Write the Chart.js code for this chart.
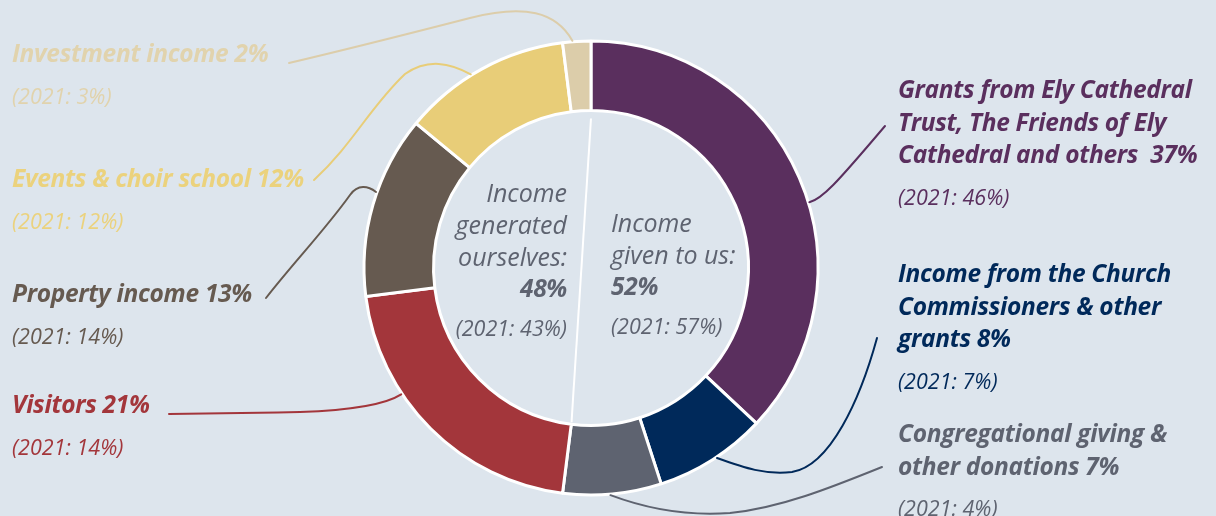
<!DOCTYPE html>
<html><head><meta charset="utf-8">
<script src="https://cdn.jsdelivr.net/npm/chart.js@4.4.1/dist/chart.umd.min.js"></script>
<style>
html,body{margin:0;padding:0;background:#dde5ed;}
#wrap{position:relative;width:1216px;height:516px;overflow:hidden;font-family:"Open Sans",Lato,sans-serif;}
canvas{position:absolute;left:0;top:0;}
.ln{position:absolute;white-space:pre;font-style:italic;}
.b{font-weight:700;letter-spacing:-0.3px;}
.r{font-weight:400;}
.s{font-weight:400;}
</style></head>
<body><div id="wrap"><canvas id="c" width="1216" height="516"></canvas></div>
<script>
// clockwise from 12 o'clock
const categories=[
  ["Grants from Ely Cathedral","Trust, The Friends of Ely","Cathedral and others "],
  ["Income from the Church","Commissioners & other","grants"],
  ["Congregational giving &","other donations"],
  ["Visitors"],
  ["Property income"],
  ["Events & choir school"],
  ["Investment income"]
];
const share2022=[37,8,7,21,13,12,2];
const share2021=[46,7,4,14,14,12,3];
const colours=["#5a2f5e","#00295a","#5e6370","#a3363b","#665a50","#e8cd78","#dccdaa"];
const textColours=["#5a2f5e","#00295a","#5e6370","#a3363b","#665a50","#ebd27d","#e1d3ad"];

const groupNames=[["Income","given to us:"],["Income","generated","ourselves:"]];
const groupShare2022=[52,48];
const groupShare2021=[57,43];

// layout: label x, first baseline ; leader: where it leaves the ring + bezier path, gap = distance after label text
const labelPos=[
  {x:898,base:99},
  {x:898,base:283},
  {x:898,base:443},
  {x:12,base:414},
  {x:12,base:303},
  {x:12,base:188},
  {x:12,base:63}
];
const leaders=[
  {f:0.55,path:[[822,199,835,185,885,126]]},
  {f:0.46,path:[[745,468,765,475,792,472],[830,466,860,400,877,338]]},
  {f:0.52,path:[[650,510,690,516,730,513],[780,508,830,488,882,467]]},
  {f:0.65,path:[[380,408,330,411,300,412],[250,413,200,414,174,414]],gap:19},
  {f:0.57,path:[[368,186,358,184,350,195],[325,230,300,262,272,298]],gap:14},
  {f:0.43,path:[[450,63,428,58,405,74],[370,107,330,144,291,180]],gap:10},
  {f:0.35,path:[[556,12,525,4,470,18],[400,36,340,52,293,63]],gap:21}
];
const groupPos=[{x:611,base:232,align:"r"==="x"?"r":"l"},{x:567,base:202,align:"r"}];

const FS={b:24.5,r:25,s:21.5};
const wrap=document.getElementById("wrap");
const firstLine=[];
function addLine(txt,cls,x,base,align,col){
  const d=document.createElement("div");
  d.className="ln "+cls; d.textContent=txt; d.style.color=col;
  const fs=FS[cls], lh=Math.round(fs*1.4);
  d.style.fontSize=fs+"px"; d.style.lineHeight=lh+"px";
  d.style.top=(base-((lh-fs*1.362)/2+fs*1.069))+"px";
  if(align==="r") d.style.right=(1216-x)+"px"; else d.style.left=x+"px";
  wrap.appendChild(d);
  return d;
}
categories.forEach((lines,i)=>{
  const p=labelPos[i]; const lh=32.5;
  lines.forEach((t,j)=>{
    const txt=j===lines.length-1? `${t} ${share2022[i]}%` : t;
    const d=addLine(txt,"b",p.x,p.base+j*lh,"l",textColours[i]);
    if(j===0) firstLine[i]=d;
  });
  addLine(`(2021: ${share2021[i]}%)`,"s",p.x,p.base+(lines.length-1)*lh+41,"l",textColours[i]);
});
groupNames.forEach((lines,i)=>{
  const p=groupPos[i]; const col="#5e6370"; let y=p.base;
  lines.forEach(t=>{addLine(t,"r",p.x,y,p.align,col); y+=32;});
  addLine(`${groupShare2022[i]}%`,"b",p.x,y,p.align,col);
  addLine(`(2021: ${groupShare2021[i]}%)`,"s",p.x,y+38,p.align,col);
});

const decor={
  id:"decor",
  afterDatasetsDraw(chart){
    const ctx=chart.ctx, arcs=chart.getDatasetMeta(0).data;
    ctx.save();
    // divider between the two groups
    const a0=arcs[0], a1=arcs[3];
    const pt=(a,ang,r)=>[a.x+r*Math.cos(ang),a.y+r*Math.sin(ang)];
    const p0=pt(a0,a0.startAngle,a0.innerRadius-8), p1=pt(a1,a1.startAngle,a1.innerRadius-2);
    ctx.strokeStyle="#ffffff"; ctx.lineWidth=2;
    ctx.beginPath(); ctx.moveTo(p0[0],p0[1]); ctx.lineTo(p1[0],p1[1]); ctx.stroke();
    // leader lines
    ctx.lineWidth=2; ctx.lineCap="round";
    leaders.forEach((l,i)=>{
      const a=arcs[i], ang=a.startAngle+(a.endAngle-a.startAngle)*l.f;
      const s=pt(a,ang,a.outerRadius+1);
      const segs=l.path.map(c=>c.slice());
      if(l.gap!==undefined){
        const r=firstLine[i].offsetLeft+firstLine[i].offsetWidth;
        const last=segs[segs.length-1], dx=r+l.gap-last[4];
        last[4]+=dx; last[2]+=dx;
      }
      ctx.strokeStyle=colours[i];
      ctx.beginPath(); ctx.moveTo(s[0],s[1]);
      segs.forEach(c=>ctx.bezierCurveTo(...c));
      ctx.stroke();
    });
    ctx.restore();
  }
};

document.fonts.ready.then(()=>{
  new Chart(document.getElementById("c"),{
    type:"doughnut",
    data:{labels:categories.map(l=>l.join(" ")),
      datasets:[{data:share2022,backgroundColor:colours,borderColor:"#ffffff",borderWidth:3}]},
    options:{responsive:false,devicePixelRatio:1,animation:false,
      radius:227,cutout:171,
      layout:{padding:{left:0,right:34,top:20,bottom:0}},
      plugins:{legend:{display:false},tooltip:{enabled:false}}},
    plugins:[decor]
  });
});
</script></body></html>
